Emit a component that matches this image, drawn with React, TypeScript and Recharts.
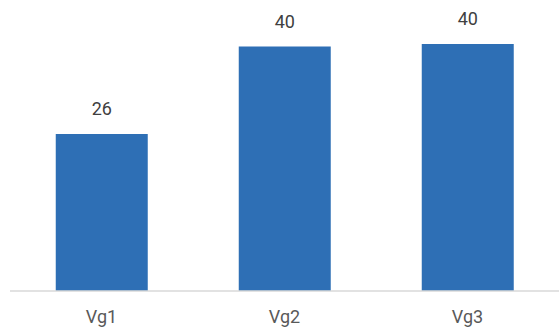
import { BarChart, Bar, XAxis, YAxis, LabelList } from "recharts";

const categories = ["Vg1", "Vg2", "Vg3"];
const values = [25.7, 40.0, 40.4];

const chartData = categories.map((name, i) => ({ name, value: values[i] }));

export default function App() {
  return (
    <div style={{ position: "absolute", left: 0, top: 0, background: "#fff" }}>
      <BarChart
        width={559}
        height={331}
        data={chartData}
        margin={{ top: 16, right: 0, left: 10, bottom: 0 }}
        barCategoryGap="25%"
      >
        <XAxis
          dataKey="name"
          height={40}
          axisLine={{ stroke: "#d9d9d9", strokeWidth: 1.3 }}
          tickLine={false}
          tickMargin={13}
          tick={{ fill: "#595959", fontSize: 18, fontFamily: "Roboto" }}
        />
        <YAxis hide domain={[0, 45]} />
        <Bar dataKey="value" fill="#2e6fb5" isAnimationActive={false}>
          <LabelList
            dataKey="value"
            position="top"
            offset={19}
            formatter={(v: any) => Math.round(Number(v))}
            style={{ fill: "#404040", fontSize: 18, fontFamily: "Roboto" }}
          />
        </Bar>
      </BarChart>
    </div>
  );
}
